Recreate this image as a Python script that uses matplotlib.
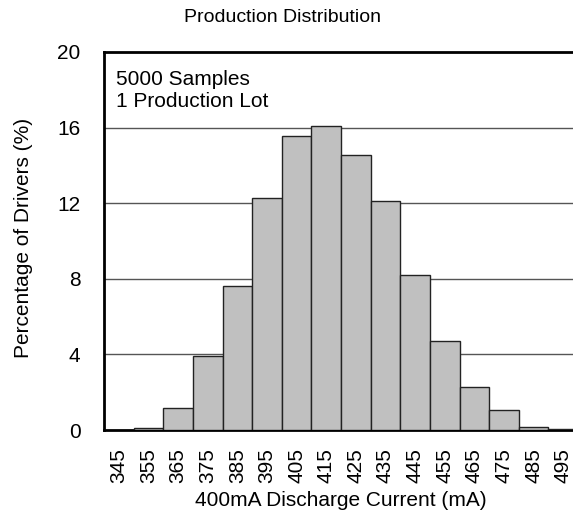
"""Production distribution histogram of 400mA discharge current."""

import matplotlib

matplotlib.use("Agg")
import matplotlib.pyplot as plt

plt.rcParams["font.family"] = ["Liberation Sans", "DejaVu Sans"]

# bin centres (mA) and share of drivers in each bin (%)
bin_centres = [345, 355, 365, 375, 385, 395, 405, 415,
               425, 435, 445, 455, 465, 475, 485, 495]
percent = [0.0, 0.09, 1.15, 3.9, 7.6, 12.3, 15.55, 16.1,
           14.55, 12.1, 8.2, 4.7, 2.26, 1.08, 0.17, 0.04]
y_ticks = [0, 4, 8, 12, 16, 20]
note_lines = ["5000 Samples", "1 Production Lot"]

fig = plt.figure(figsize=(5.73, 5.13), dpi=100)
# axes run slightly past the right edge, as in the source picture
ax = fig.add_axes([104 / 573, 83 / 513, 474 / 573, 378 / 513])

ax.bar(bin_centres, percent, width=10, color="#c0c0c0",
       edgecolor="#222222", linewidth=1.0, zorder=3)

ax.set_xlim(340, 500)
ax.set_ylim(0, 20)
ax.set_yticks(y_ticks)
ax.set_xticks(bin_centres)
ax.set_xticklabels([str(v) for v in bin_centres], rotation=90)
ax.tick_params(axis="both", length=0, labelsize=15)
ax.tick_params(axis="y", pad=17)
ax.tick_params(axis="x", pad=13)

for y in y_ticks[1:-1]:
    ax.axhline(y, color="#555555", linewidth=1.0, zorder=1)

for side in ("left", "bottom", "top"):
    ax.spines[side].set_linewidth(2.0)
    ax.spines[side].set_color("black")
ax.spines["right"].set_visible(False)

ax.set_xlabel("400mA Discharge Current (mA)", fontsize=15, labelpad=6)
ax.set_ylabel("Percentage of Drivers (%)", fontsize=15)
ax.yaxis.set_label_coords(-0.15, 0.508)

ax.text(12 / 474, 0.952, "\n".join(note_lines), transform=ax.transAxes,
        fontsize=15, va="top", ha="left", linespacing=1.2)

fig.text(282 / 573, 1 - 18 / 513, "Production Distribution",
         fontsize=14, ha="center", va="center")

fig.savefig("out.png", dpi=100)
